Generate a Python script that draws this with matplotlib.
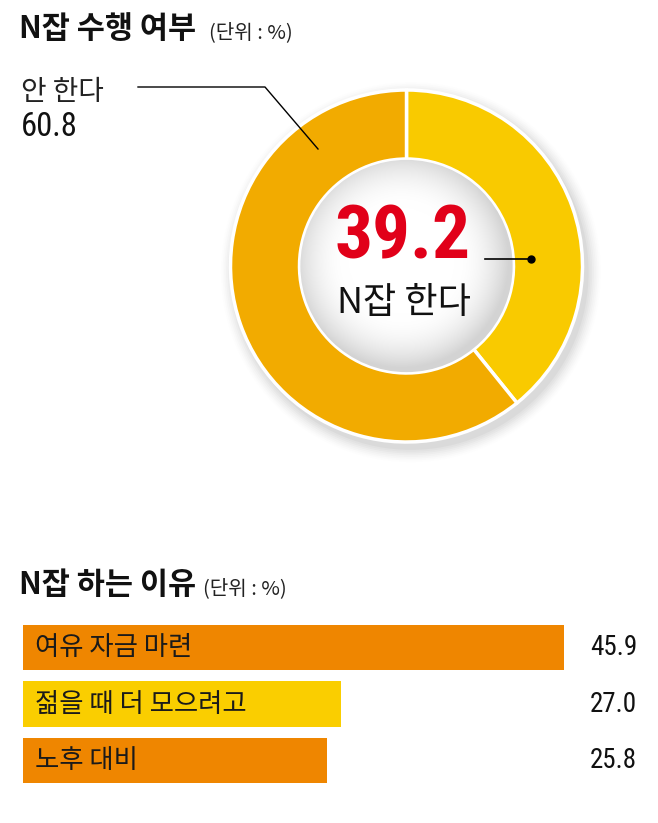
import numpy as np
import matplotlib
matplotlib.use("Agg")
import matplotlib.pyplot as plt
from matplotlib import font_manager as fm
from matplotlib import transforms
from matplotlib.patches import Circle

# ---------------- data ----------------
donut_labels = ["N잡 한다", "안 한다"]
donut_values = [39.2, 60.8]
donut_colors = ["#F9CA00", "#F2AB00"]

reason_labels = ["여유 자금 마련", "젊을 때 더 모으려고", "노후 대비"]
reason_values = [45.9, 27.0, 25.8]
reason_colors = ["#EF8600", "#FACE00", "#EF8600"]

title1 = "N잡 수행 여부"
title2 = "N잡 하는 이유"
unit = "(단위 : %)"

# ---------------- fonts ----------------
names = {f.name for f in fm.fontManager.ttflist}
KR = ["Noto Sans CJK KR", "DejaVu Sans"]
cond = None
for cand in ["Roboto Condensed", "Liberation Sans Narrow", "Open Sans Condensed",
             "Arial Narrow", "DejaVu Sans Condensed"]:
    if cand in names:
        cond = cand
        break
NUM = [cond if cond else "Liberation Sans", "DejaVu Sans"]
BIG = NUM

W, H = 658, 823
fig = plt.figure(figsize=(W / 100, H / 100), dpi=100)
fig.patch.set_facecolor("white")

def px_axes(left, top, width, height, **kw):
    return fig.add_axes([left / W, (H - top - height) / H, width / W, height / H], **kw)

# overlay axes in pixel coordinates (for titles / annotations)
ov = px_axes(0, 0, W, H, zorder=5)
ov.set_xlim(0, W)
ov.set_ylim(H, 0)
ov.axis("off")
ov.patch.set_alpha(0)

# ---------------- donut ----------------
cx, cy, R, r_in = 406.5, 266, 176, 107
half = 200
dax = px_axes(cx - half, cy - half, 2 * half, 2 * half, zorder=1)
lim = half / R

wedges, _ = dax.pie(donut_values, colors=donut_colors, startangle=90, counterclock=False,
                    radius=1.0, wedgeprops=dict(width=(R - r_in) / R, edgecolor="white",
                                                linewidth=2.5))
for w in wedges:
    w.set_zorder(2)
dax.set_xlim(-lim, lim)
dax.set_ylim(-lim, lim)
dax.set_aspect("equal")
dax.axis("off")

# soft outer shadow (offset to lower right)
for i, a in enumerate(np.linspace(0.06, 0.012, 8)):
    dax.add_patch(Circle((0.025, -0.035), 1.0 + 0.01 * (i + 1), color="#808080",
                         alpha=a, lw=0, zorder=0))

# inner hole with grey radial gradient
rin = r_in / R
n = 400
xs = np.linspace(-rin, rin, n)
X, Y = np.meshgrid(xs, xs)
D = np.sqrt((X + 0.03) ** 2 + (Y - 0.03) ** 2) / rin
val = 1.0 - 0.17 * np.clip((D - 0.5) / 0.5, 0, 1) ** 2
img = np.dstack([val, val, val])
im = dax.imshow(img, extent=(-rin, rin, -rin, rin), origin="lower", zorder=3,
                interpolation="bilinear")
im.set_clip_path(Circle((0, 0), rin - 0.005, transform=dax.transData))

# center texts
big = ov.text(403, 238, f"{donut_values[0]:.1f}", color="#E10019", fontsize=56,
              fontweight="bold", family=BIG, ha="center", va="center", zorder=10)
renderer = fig.canvas.get_renderer()
bw = big.get_window_extent(renderer).width
target_w = 136.0
fs = 56 * target_w / bw
fs = min(fs, 66)
big.set_fontsize(fs)

ov.text(404, 303, donut_labels[0], fontsize=26, family=KR, ha="center", va="center",
        color="#111111", zorder=10)
ov.plot([485, 531], [259, 259], color="black", lw=1.2, zorder=10)
ov.plot([531], [259], "o", color="black", ms=5, zorder=10)

# "안 한다" leader
ov.plot([138, 265, 318], [87, 87, 149], color="black", lw=1.0, zorder=10)
ov.text(21, 92, donut_labels[1], fontsize=20, family=KR, ha="left", va="center",
        color="#222222")
ov.text(21, 127, f"{donut_values[1]:.1f}", fontsize=23.5, family=NUM, ha="left",
        va="center", color="#111111")

# titles
ov.text(19, 29, title1, fontsize=22, fontweight="bold", family=KR, ha="left",
        va="center", color="#111111")
ov.text(209, 33, unit, fontsize=14.5, family=KR, ha="left", va="center", color="#222222")
ov.text(19, 585, title2, fontsize=22, fontweight="bold", family=KR, ha="left",
        va="center", color="#111111")
ov.text(203, 589, unit, fontsize=14.5, family=KR, ha="left", va="center", color="#222222")

# ---------------- bars ----------------
step = 56.5
bax = px_axes(23, 647.5 - step / 2, 50 * 11.79, 3 * step, zorder=2)
ypos = np.arange(len(reason_values))
bax.barh(ypos, reason_values, height=0.8, color=reason_colors, edgecolor="none")
bax.set_xlim(0, 50)
bax.set_ylim(len(reason_values) - 0.5, -0.5)
bax.axis("off")
for i, lab in enumerate(reason_labels):
    bax.text(1.0, i, lab, fontsize=19, family=KR, ha="left", va="center", color="#1a1a1a")
tr = transforms.blended_transform_factory(fig.transFigure, bax.transData)
for i, v in enumerate(reason_values):
    bax.text(637 / W, i, f"{v:.1f}", transform=tr, fontsize=19.5, family=NUM, ha="right",
             va="center", color="#111111", clip_on=False)

fig.savefig("out.png", dpi=100, facecolor="white")
